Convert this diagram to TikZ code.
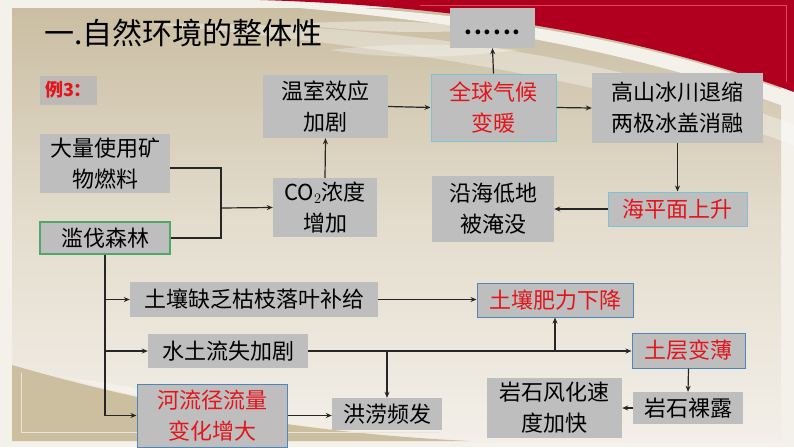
\documentclass[tikz,border=0pt]{standalone}
\usepackage{fontspec}
\setmainfont{Noto Sans CJK SC}
\usetikzlibrary{arrows.meta}
\definecolor{bgcream}{HTML}{F4F1EB}
\definecolor{tantop}{HTML}{CABEA2}
\definecolor{tanmid}{HTML}{E4DDCE}
\definecolor{tanbot}{HTML}{F3EFE8}
\definecolor{tanshape}{HTML}{CCBFA0}
\definecolor{bgred}{HTML}{B1001F}
\definecolor{redline}{HTML}{D9475A}
\definecolor{boxgray}{HTML}{BEBEBE}
\definecolor{exgray}{HTML}{BDB9B4}
\definecolor{txtred}{HTML}{E3141B}
\definecolor{cyanedge}{HTML}{7CC3D6}
\definecolor{blueedge}{HTML}{4F86B8}
\definecolor{greenedge}{HTML}{4FA86A}
\tikzset{
  box/.style={fill=boxgray, inner sep=0pt, align=center, text=black,
    font=\fontsize{22}{31}\selectfont},
  redbox/.style={box, draw=cyanedge, line width=1pt, text=txtred},
  bluebox/.style={box, draw=blueedge, line width=1pt, text=txtred},
  greenbox/.style={box, draw=greenedge, line width=1.2pt},
  conn/.style={line width=1.2pt, draw=black!85, -{Stealth[length=6pt,width=5pt]}},
  plainline/.style={line width=1.2pt, draw=black!85},
}
\begin{document}
\begin{tikzpicture}[x=1pt,y=-1pt]
\useasboundingbox (0,0) rectangle (794,447);
% background
\fill[bgcream] (0,0) rectangle (794,447);
\shade[top color=tantop, bottom color=tanbot, middle color=tanmid] (12,8) rectangle (781,441);
% light swooshes
\fill[white, opacity=0.35] (150,24) .. controls (350,20) and (600,50) .. (794,125) -- (794,145) .. controls (600,75) and (350,42) .. (150,24) -- cycle;
\fill[white, opacity=0.3] (330,50) .. controls (400,42) and (450,44) .. (520,50) .. controls (450,58) and (400,60) .. (330,50) -- cycle;
\fill[white, opacity=0.4] (290,24) .. controls (380,19) and (440,21) .. (480,30) .. controls (420,34) and (360,32) .. (290,24) -- cycle;
% white swoosh
\fill[bgcream] (200,0) .. controls (430,6) and (620,30) .. (794,94) -- (794,110) .. controls (620,44) and (430,16) .. (200,0) -- cycle;
% red
\fill[bgred] (260,0) .. controls (430,5) and (620,28) .. (794,92) -- (794,0) -- cycle;
\draw[redline, line width=0.8pt] (420,5) -- (786,5) -- (786,82);
% bottom-left tan shape
\fill[tanshape] (12,365) .. controls (150,405) and (300,433) .. (470,441) -- (12,441) -- cycle;
\fill[white, opacity=0.3] (70,378) .. controls (130,385) and (170,395) .. (220,408) .. controls (160,400) and (110,392) .. (70,378) -- cycle;
\draw[white!60!tanshape, line width=0.8pt] (21,373) -- (21,432) -- (440,432);

% title
\node[anchor=west, inner sep=0pt, font=\fontsize{30}{30}\selectfont] (title) at (44,33) {一.自然环境的整体性};
\node[fill=exgray, inner sep=0pt, minimum width=57pt, minimum height=29pt, text=txtred, font=\fontsize{18}{18}\selectfont\bfseries] (ex) at (68.5,90) {例3：};

% nodes
\node[box, minimum width=85pt, minimum height=40pt, font=\fontsize{22}{22}\selectfont\bfseries] (dots) at (492.5,28) {\rule{0pt}{14pt}.\kern2pt.\kern2pt.\kern2pt.\kern2pt.\kern2pt.};
\node[redbox, minimum width=125pt, minimum height=67pt] (warm) at (493.5,107.5) {全球气候\\变暖};
\node[box, minimum width=171pt, minimum height=70pt] (glacier) at (677.5,108) {高山冰川退缩\\两极冰盖消融};
\node[redbox, minimum width=139pt, minimum height=34pt] (sea) at (677.5,209) {海平面上升};
\node[box, minimum width=122pt, minimum height=66pt] (coast) at (493,209) {沿海低地\\被淹没};
\node[box, minimum width=125pt, minimum height=63pt] (green) at (325.5,106.5) {温室效应\\加剧};
\node[box, minimum width=104pt, minimum height=59pt] (co2) at (325,207.5) {CO$_2$浓度\\增加};
\node[box, minimum width=130pt, minimum height=59pt] (fuel) at (105,163.5) {大量使用矿\\物燃料};
\node[greenbox, minimum width=130pt, minimum height=32pt] (forest) at (105,238) {滥伐森林};
\node[box, minimum width=248pt, minimum height=35pt] (litter) at (254,299.5) {土壤缺乏枯枝落叶补给};
\node[box, minimum width=160pt, minimum height=34pt] (erosion) at (228,351) {水土流失加剧};
\node[bluebox, minimum width=150pt, minimum height=63pt] (river) at (212,415.5) {河流径流量\\变化增大};
\node[box, minimum width=110pt, minimum height=32pt] (flood) at (387,414) {洪涝频发};
\node[bluebox, minimum width=156pt, minimum height=34pt] (fert) at (555,300) {土壤肥力下降};
\node[bluebox, minimum width=113pt, minimum height=35pt] (thin) at (688.5,350.5) {土层变薄};
\node[box, minimum width=110pt, minimum height=32pt] (rock) at (688,408) {岩石裸露};
\node[box, minimum width=135pt, minimum height=60pt] (weather) at (554.5,408) {岩石风化速\\度加快};

% connectors
\coordinate (j1) at (221,208);
\draw[plainline] ([yshift=-4.5pt]fuel.east) -| (j1);
\draw[plainline] (forest.east) -| (j1);
\draw[conn] (j1) -- (co2.west);
\draw[conn] (co2.north) -- (green.south);
\draw[conn] (green.east) -- (warm.west);
\draw[conn] (warm.east) -- (glacier.west);
\draw[conn] (warm.north) -- (dots.south);
\draw[conn] (glacier.south) -- (sea.north);
\draw[conn] (sea.west) -- (coast.east);
\draw[plainline] (forest.south) -- (forest.south |- river.west);
\draw[conn] (forest.south |- litter.west) -- (litter.west);
\draw[conn] (forest.south |- erosion.west) -- (erosion.west);
\draw[conn] (forest.south |- river.west) -- (river.west);
\draw[conn] (litter.east) -- (litter.east -| fert.west);
\draw[conn] (erosion.east) -- (erosion.east -| thin.west);
\draw[conn] (erosion.east -| fert.south) -- (fert.south);
\draw[conn] (erosion.east -| flood.north) -- (flood.north);
\draw[conn] (river.east) -- (river.east -| flood.west);
\draw[conn] (thin.south) -- (rock.north);
\draw[conn] (rock.west) -- (weather.east);
\end{tikzpicture}
\end{document}
